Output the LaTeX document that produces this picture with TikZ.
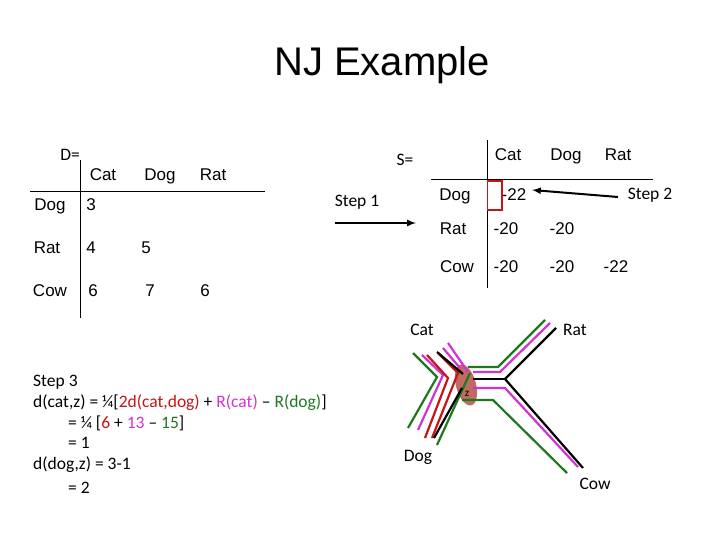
\documentclass[tikz,border=0pt]{standalone}
\usepackage{fontspec}
\setmainfont{Liberation Sans}
\newfontfamily\calfont{Carlito}
\definecolor{myred}{RGB}{200,20,20}
\definecolor{mymag}{RGB}{210,50,210}
\definecolor{mygreen}{RGB}{30,120,30}
\definecolor{blob}{RGB}{180,80,70}
\begin{document}
\begin{tikzpicture}[x=1pt,y=-1pt,
  ar/.style={font=\fontsize{17}{20}\selectfont,inner sep=0pt,anchor=base},
  cb/.style={font=\calfont\fontsize{17.5}{20}\selectfont,inner sep=0pt},
  tl/.style={line width=2.2pt},
  arr/.style={line width=2pt,-latex}]
\useasboundingbox (0,0) rectangle (720,540);
\node[font=\fontsize{40}{44}\selectfont] (title) at (382,65) {NJ Example};
% D table
\node[cb] (dlab) at (70,155) {D=};
\node[ar] (dc1) at (103,181) {Cat};
\node[ar] (dc2) at (160,181) {Dog};
\node[ar] (dc3) at (213,181) {Rat};
\node[ar] (dr1) at (50,211) {Dog};
\node[ar] (dr2) at (47,253) {Rat};
\node[ar] (dr3) at (50,296) {Cow};
\node[ar] (d11) at (91,211) {3};
\node[ar] (d21) at (91,253) {4};
\node[ar] (d22) at (146,253) {5};
\node[ar] (d31) at (93,296) {6};
\node[ar] (d32) at (150,296) {7};
\node[ar] (d33) at (205,296) {6};
\draw (30,191) -- (265,191);
\draw (80,160) -- (80,318);
% S table
\node[cb] (slab) at (405,160) {S=};
\node[ar] (sc1) at (508,161) {Cat};
\node[ar] (sc2) at (566,161) {Dog};
\node[ar] (sc3) at (618,161) {Rat};
\node[ar] (sr1) at (455,201) {Dog};
\node[ar] (sr2) at (453,234) {Rat};
\node[ar] (sr3) at (457,272) {Cow};
\node[ar] (s11) at (514,201) {-22};
\node[ar] (s21) at (506,234) {-20};
\node[ar] (s22) at (562,234) {-20};
\node[ar] (s31) at (506,272) {-20};
\node[ar] (s32) at (562,272) {-20};
\node[ar] (s33) at (616,272) {-22};
\draw (487,140) -- (487,288);
\draw (431,179) -- (653,179);
\draw[myred,line width=1.5pt] (487.5,181) rectangle (502,210);
\node[cb] (st1) at (357,202) {Step 1};
\node[cb] (st2) at (650,195) {Step 2};
\coordinate (a1s) at (335,223); \coordinate (a1e) at (416,223);
\draw[arr] (a1s) -- (a1e);
\coordinate (a2s) at (618,197); \coordinate (a2e) at (532,190);
\draw[arr] (a2s) -- (a2e);
% Step 3
\node[cb,anchor=west] (l1) at (33,382) {Step 3};
\node[cb,anchor=west] (l2) at (33,403) {d(cat,z) = ¼[{\color{myred}2d(cat,dog)} + {\color{mymag}R(cat)} – {\color{mygreen}R(dog)}]};
\node[cb,anchor=west] (l3) at (68,423) {= ¼ [{\color{myred}6} + {\color{mymag}13} – {\color{mygreen}15}]};
\node[cb,anchor=west] (l4) at (68,443) {= 1};
\node[cb,anchor=west] (l5) at (33,465) {d(dog,z) = 3-1};
\node[cb,anchor=west] (l6) at (68,488) {= 2};
% tree
\fill[blob,opacity=0.85,rotate around={15:(466,385)}] (466,385) ellipse (10 and 21);
\draw[tl,mygreen] (413,353)--(437,377)--(408,428);
\draw[tl,mygreen] (437,445)--(470,373);
\draw[tl,mygreen] (468,367)--(498,367)--(545,320);
\draw[tl,mygreen] (462,400)--(493,400)--(567,473);
\draw[tl,mymag] (422,355)--(443,375)--(418,430);
\draw[tl,mymag] (473,388)--(505,388)--(578,467);
\draw[tl,mymag] (550,323)--(500,372)--(473,372);
\draw[tl,mymag] (448,343)--(468,372);
\draw[tl,mymag] (443,348)--(460,368);
\draw[tl,myred] (427,355)--(448,378)--(425,438);
\draw[tl,myred] (438,353)--(458,373)--(432,438);
\draw[tl,black] (437,352)--(463,374);
\draw[tl,black] (434,438)--(462,388);
\draw[tl,black] (473,379)--(505,379);
\draw[tl,black] (505,379)--(556,328);
\draw[tl,black] (505,379)--(583,468);
\node[cb,font=\calfont\fontsize{11}{13}\selectfont] (z) at (467,394) {z};
\node[cb] (tcat) at (422,330) {Cat};
\node[cb] (trat) at (575,330) {Rat};
\node[cb] (tdog) at (418,457) {Dog};
\node[cb] (tcow) at (595,484) {Cow};
\end{tikzpicture}
\end{document}
